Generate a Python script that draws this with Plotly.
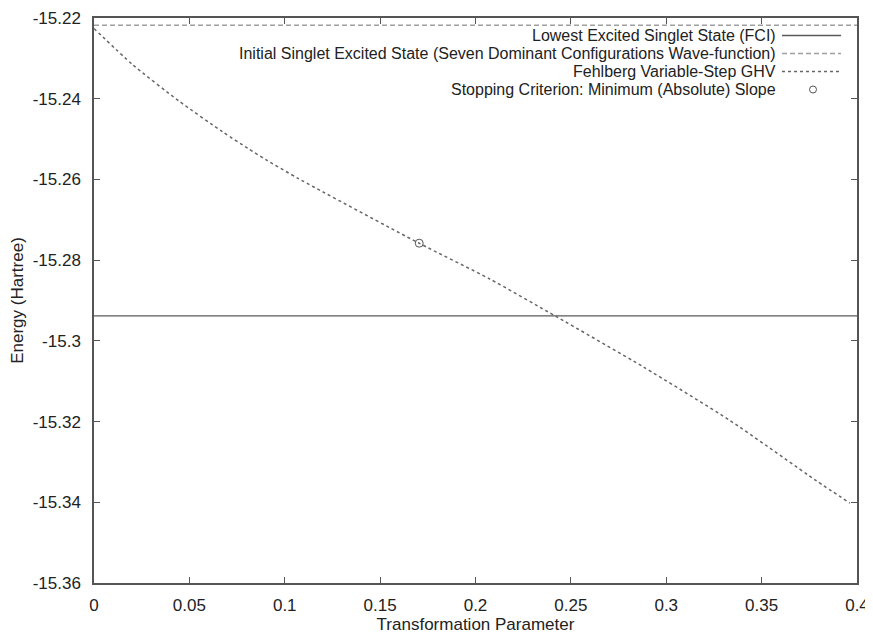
import plotly.graph_objects as go

# ---- data ----
ghv_x = [0, 0.0201, 0.0446, 0.0674, 0.0810, 0.0901, 0.1072, 0.1700, 0.2076,
         0.2424, 0.2878, 0.3333, 0.3788, 0.3963]
ghv_y = [-15.2226, -15.2315, -15.2406, -15.2482, -15.2524, -15.2551, -15.2598,
         -15.2757, -15.2847, -15.2940, -15.3064, -15.3197, -15.3347, -15.3402]

fci_x = [0, 0.4]
fci_y = [-15.2938, -15.2938]

init_x = [0, 0.4]
init_y = [-15.2218, -15.2218]

stop_x = [0.1705]
stop_y = [-15.2758]

x_ticks = [0, 0.05, 0.1, 0.15, 0.2, 0.25, 0.3, 0.35, 0.4]
x_ticktext = ["0", "0.05", "0.1", "0.15", "0.2", "0.25", "0.3", "0.35", "0.4"]
y_ticks = [-15.22, -15.24, -15.26, -15.28, -15.30, -15.32, -15.34, -15.36]
y_ticktext = ["-15.22", "-15.24", "-15.26", "-15.28", "-15.3", "-15.32", "-15.34", "-15.36"]

legend_labels = [
    "Lowest Excited Singlet State (FCI)",
    "Initial Singlet Excited State (Seven Dominant Configurations Wave-function)",
    "Fehlberg Variable-Step GHV",
    "Stopping Criterion: Minimum (Absolute) Slope",
]

FONT = "Liberation Sans, Arial, Helvetica, sans-serif"
FS = 17
FS_LEG = 16
TXT = "#222222"
C_FCI = "#5a5a5a"
C_INIT = "#a0a0a0"
C_GHV = "#666666"
C_STOP = "#555555"

fig = go.Figure()
fig.add_trace(go.Scatter(x=fci_x, y=fci_y, mode="lines",
                         line=dict(color=C_FCI, width=1.2), showlegend=False))
fig.add_trace(go.Scatter(x=init_x, y=init_y, mode="lines",
                         line=dict(color=C_INIT, width=1.4, dash="5px,3px"), showlegend=False))
fig.add_trace(go.Scatter(x=ghv_x, y=ghv_y, mode="lines",
                         line=dict(color=C_GHV, width=1.5, dash="dot", shape="spline", smoothing=0.6),
                         showlegend=False))
fig.add_trace(go.Scatter(x=stop_x, y=stop_y, mode="markers",
                         marker=dict(symbol="circle-open", size=8, color=C_STOP,
                                     line=dict(width=1, color=C_STOP)),
                         showlegend=False))

# The page body has an 8px default margin; size the figure so it fits the window.
OFF = 8
W, H = 873 - OFF, 635 - OFF
L, T = 94 - OFF, 18 - OFF          # plot area starts at page (94, 18)
R = W - (857 - OFF)                # plot area ends at page x = 857
B = H - (583 - OFF)                # plot area ends at page y = 583
pw, ph = W - L - R, H - T - B

def px(xpage):
    return (xpage - OFF - L) / pw

def py(ypage):
    return 1 - (ypage - OFF - T) / ph

# custom gnuplot-style legend (text right-aligned, sample on the right)
rows_y = [35.5, 53.5, 71.5, 89.5]
annotations = []
shapes = []
styles = [("solid", C_FCI), ("5px,3px", C_INIT), ("dot", C_GHV), (None, C_STOP)]
for lab, ry, (dash, col) in zip(legend_labels, rows_y, styles):
    annotations.append(dict(text=lab, xref="paper", yref="paper", x=px(777), y=py(ry),
                            xanchor="right", yanchor="middle", showarrow=False,
                            borderpad=0,
                            font=dict(family=FONT, size=FS_LEG, color=TXT)))
    if dash is not None:
        shapes.append(dict(type="line", xref="paper", yref="paper",
                           x0=px(782), x1=px(841), y0=py(ry), y1=py(ry),
                           line=dict(color=col, width=1.3 if dash != "dot" else 1.5, dash=dash)))
    else:
        shapes.append(dict(type="circle", xref="paper", yref="paper",
                           xsizemode="pixel", ysizemode="pixel",
                           xanchor=px(813), yanchor=py(ry),
                           x0=-3.5, x1=3.5, y0=-3.5, y1=3.5,
                           line=dict(color=col, width=1)))

axis_common = dict(showgrid=False, zeroline=False, showline=True, linecolor="#555555",
                   linewidth=1.5, mirror="allticks", ticks="inside", ticklen=6,
                   tickcolor="#555555", tickwidth=1.2, automargin=False,
                   tickfont=dict(family=FONT, size=FS, color=TXT))

fig.update_layout(
    width=W, height=H,
    margin=dict(l=L, r=R, t=T, b=B),
    plot_bgcolor="white", paper_bgcolor="white",
    font=dict(family=FONT, size=FS, color=TXT),
    annotations=annotations,
    shapes=shapes,
    xaxis=dict(range=[0, 0.4], tickvals=x_ticks, ticktext=x_ticktext,
               title=dict(text="Transformation Parameter", standoff=4,
                          font=dict(family=FONT, size=FS, color=TXT)),
               ticklabelstandoff=6, **axis_common),
    yaxis=dict(range=[-15.36, -15.22], tickvals=y_ticks, ticktext=y_ticktext,
               title=dict(text="Energy (Hartree)", standoff=6,
                          font=dict(family=FONT, size=FS, color=TXT)),
               ticklabelstandoff=8, **axis_common),
)

fig.write_html("out.html")
